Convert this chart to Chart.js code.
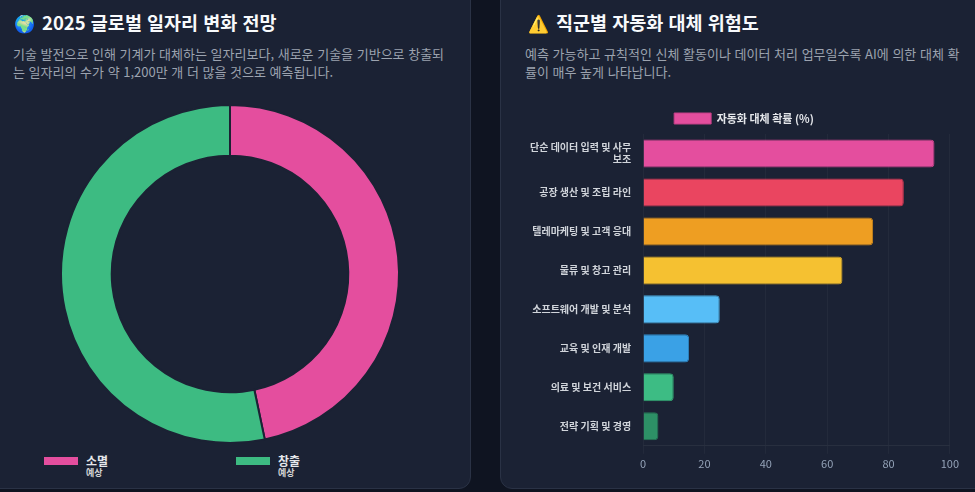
<!DOCTYPE html>
<html lang="ko">
<head>
<meta charset="utf-8">
<script src="https://cdn.jsdelivr.net/npm/chart.js@4.4.1/dist/chart.umd.min.js"></script>
<style>
  html, body { margin: 0; padding: 0; }
  body {
    width: 975px; height: 492px; overflow: hidden; position: relative;
    background: #0f1421;
    font-family: "Noto Sans CJK KR", "Noto Sans", sans-serif;
  }
  .card {
    position: absolute; top: -14px; height: 503px;
    background: #1b2234; border: 1px solid #2a3245; border-radius: 12px;
    box-sizing: border-box;
  }
  .title {
    position: absolute; top: 9px; font-size: 18.5px; font-weight: 700;
    color: #f8fafc; line-height: 26px; white-space: nowrap;
  }
  .title .ico { display: inline-block; width: 28px; font-size: 17px; }
  .desc {
    position: absolute; top: 45px; font-size: 13px; line-height: 18px;
    color: #9ca3af;
  }
  .box { position: absolute; }
  .leg { position: absolute; top: 456px; }
  .leg i { position: absolute; left: 0; top: 0; width: 36px; height: 10px; border: 1px solid #1b2234; box-sizing: border-box; }
  .leg b { position: absolute; left: 43px; top: -4px; font-size: 12px; color: #e5e7eb; white-space: nowrap; }
  .leg small { position: absolute; left: 43px; top: 10px; font-size: 9px; font-weight: 700; color: #d4d4d4; white-space: nowrap; }
</style>
</head>
<body>
<div class="card" style="left:-12px; width:483px;"></div>
<div class="card" style="left:500px; width:490px;"></div>

<div class="title" style="left:14px;"><span class="ico">🌍</span>2025 글로벌 일자리 변화 전망</div>
<div class="desc" style="left:13px; width:436px;">기술 발전으로 인해 기계가 대체하는 일자리보다, 새로운 기술을 기반으로 창출되는 일자리의 수가 약 1,200만 개 더 많을 것으로 예측됩니다.</div>

<div class="title" style="left:528px;"><span class="ico">⚠️</span>직군별 자동화 대체 위험도</div>
<div class="desc" style="left:525px; width:440px;">예측 가능하고 규칙적인 신체 활동이나 데이터 처리 업무일수록 AI에 의한 대체 확률이 매우 높게 나타납니다.</div>

<div class="box" style="left:0; top:104px; width:460px; height:340px;"><canvas id="jobChart"></canvas></div>
<div id="jobLegend"></div>

<div class="box" style="left:526px; top:103px; width:436px; height:370px;"><canvas id="riskChart"></canvas></div>

<script>
// 일자리 변화 (단위: 만 개)
const jobLabels = ['소멸', '창출'];
const jobSubLabels = ['예상', '예상'];
const jobValues = [8500, 9700];
const jobColors = ['#e44e9e', '#3dbb82'];

// 직군별 자동화 대체 확률 (%)
const riskLabels = [
  ['단순 데이터 입력 및 사무', '보조'],
  '공장 생산 및 조립 라인',
  '텔레마케팅 및 고객 응대',
  '물류 및 창고 관리',
  '소프트웨어 개발 및 분석',
  '교육 및 인재 개발',
  '의료 및 보건 서비스',
  '전략 기획 및 경영'
];
const riskValues = [95, 85, 75, 65, 25, 15, 10, 5];
const riskColors = ['#e44e9e', '#ea4560', '#ee9e22', '#f5c131', '#57bef7', '#3aa1e6', '#3dbc84', '#2d9066'];
const riskBorders = ['#c23f86', '#c93650', '#cc861a', '#d4a527', '#469fd0', '#2f86c2', '#31a06f', '#247655'];
const riskTicks = [0, 20, 40, 60, 80, 100];

// 도넛 차트
new Chart(document.getElementById('jobChart'), {
  type: 'doughnut',
  data: {
    labels: jobLabels,
    datasets: [{
      data: jobValues,
      backgroundColor: jobColors,
      borderColor: '#1b2234',
      borderWidth: 2
    }]
  },
  options: {
    responsive: true,
    maintainAspectRatio: false,
    animation: false,
    cutout: '70%',
    plugins: { legend: { display: false }, tooltip: { enabled: false } }
  }
});

// 도넛 범례 (아래쪽)
const legendEl = document.getElementById('jobLegend');
const legendX = [43, 235];
jobLabels.forEach((label, i) => {
  const item = document.createElement('div');
  item.className = 'leg';
  item.style.left = legendX[i] + 'px';
  item.innerHTML = `<i style="background:${jobColors[i]}"></i><b>${label}</b><small>${jobSubLabels[i]}</small>`;
  legendEl.appendChild(item);
});

// 가로 막대 차트
new Chart(document.getElementById('riskChart'), {
  type: 'bar',
  data: {
    labels: riskLabels,
    datasets: [{
      label: '자동화 대체 확률 (%)',
      data: riskValues,
      backgroundColor: riskColors,
      borderColor: riskBorders,
      borderWidth: 1,
      borderRadius: 4
    }]
  },
  options: {
    indexAxis: 'y',
    responsive: true,
    maintainAspectRatio: false,
    animation: false,
    scales: {
      x: {
        min: 0,
        max: 100,
        afterBuildTicks: axis => { axis.ticks = riskTicks.map(v => ({ value: v })); },
        grid: { color: 'rgba(255,255,255,0.04)' },
        border: { color: 'rgba(255,255,255,0.06)' },
        ticks: { color: '#94a3b8', font: { size: 11, family: 'Noto Sans CJK KR' } }
      },
      y: {
        grid: { display: false },
        border: { display: false },
        ticks: { padding: 4, color: '#d1d5db', font: { size: 10, weight: 'bold', family: 'Noto Sans CJK KR' } }
      }
    },
    plugins: {
      legend: {
        labels: {
          color: '#e5e7eb',
          boxWidth: 37,
          boxHeight: 11,
          font: { size: 11, weight: 'bold', family: 'Noto Sans CJK KR' }
        }
      },
      tooltip: { enabled: false }
    }
  }
});
</script>
</body>
</html>
